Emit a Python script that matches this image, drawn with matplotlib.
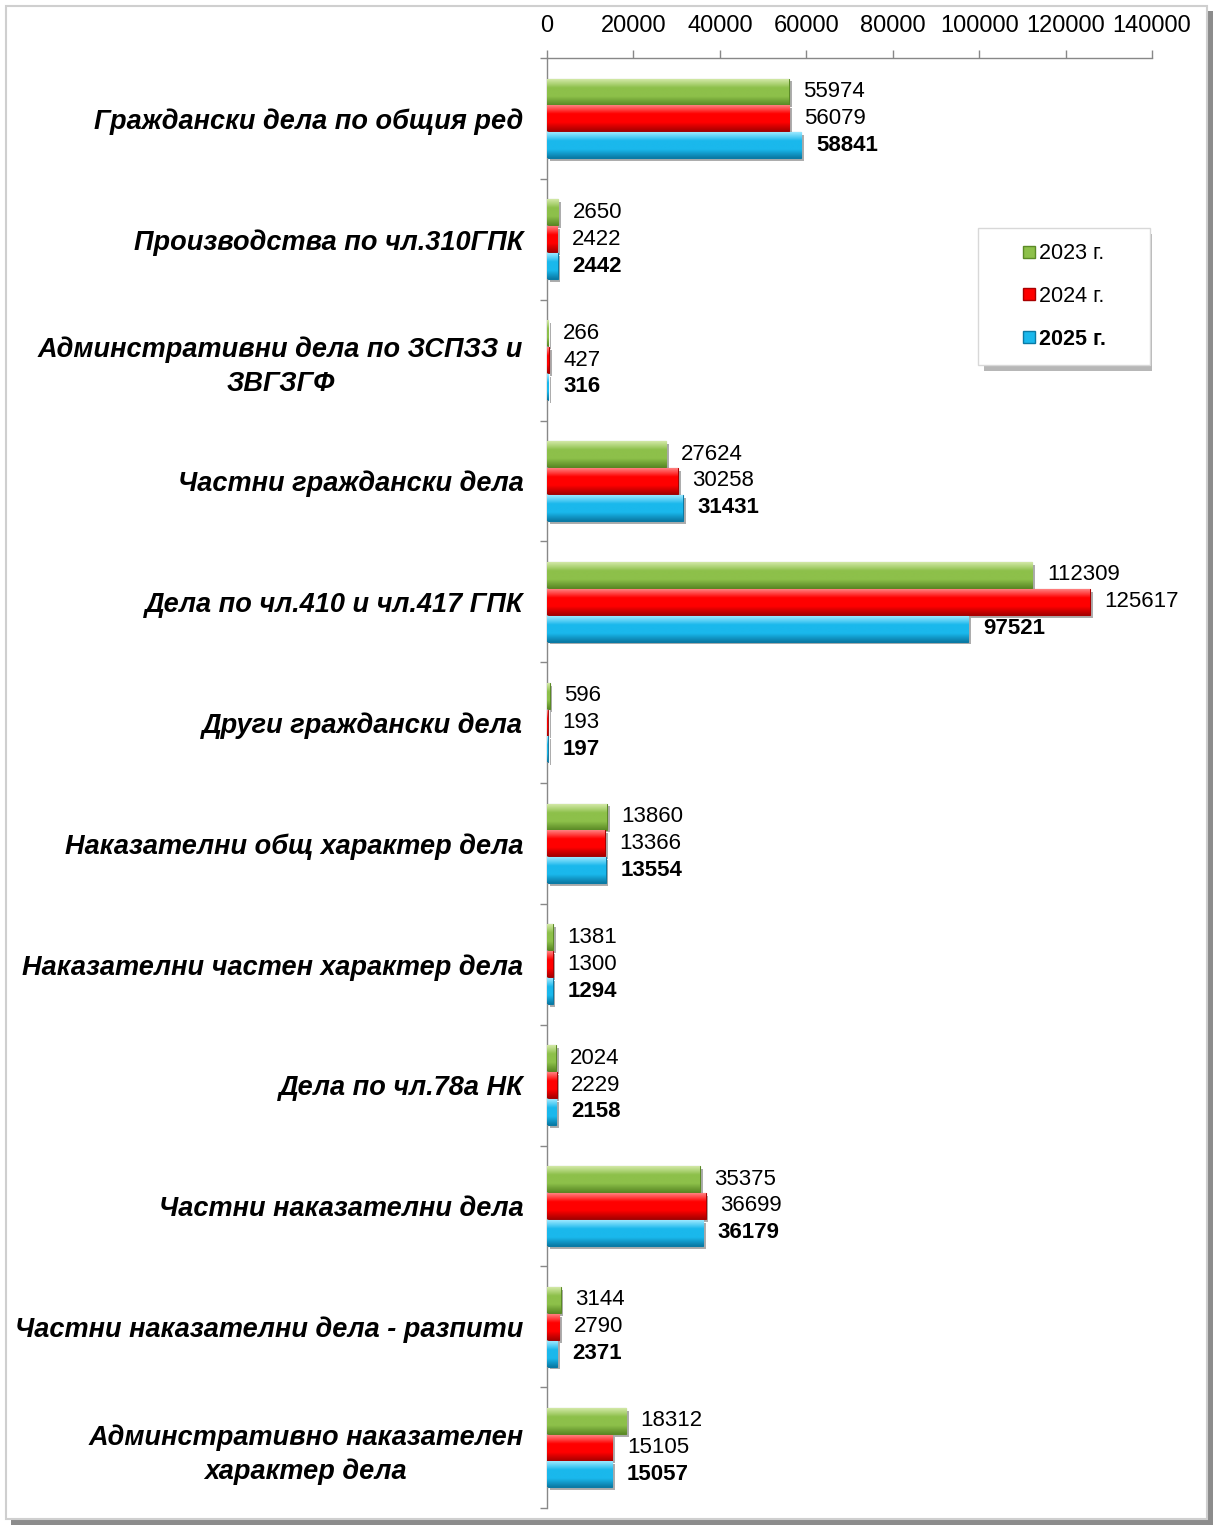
import numpy as np
import matplotlib
matplotlib.use("Agg")
import matplotlib.pyplot as plt
from matplotlib.patches import Rectangle
from matplotlib.colors import LinearSegmentedColormap
from matplotlib.lines import Line2D
import matplotlib.patheffects as pe

plt.rcParams['font.family'] = ['Liberation Sans', 'DejaVu Sans']

categories = [
    "Граждански дела по общия ред",
    "Производства по чл.310ГПК",
    "Админстративни дела по ЗСПЗЗ и\nЗВГЗГФ",
    "Частни граждански дела",
    "Дела по чл.410 и чл.417 ГПК",
    "Други граждански дела",
    "Наказателни общ характер дела",
    "Наказателни частен характер дела",
    "Дела по чл.78а НК",
    "Частни наказателни дела",
    "Частни наказателни дела - разпити",
    "Админстративно наказателен\nхарактер дела",
]
years = ["2023 г.", "2024 г.", "2025 г."]
v2023 = [55974, 2650, 266, 27624, 112309, 596, 13860, 1381, 2024, 35375, 3144, 18312]
v2024 = [56079, 2422, 427, 30258, 125617, 193, 13366, 1300, 2229, 36699, 2790, 15105]
v2025 = [58841, 2442, 316, 31431, 97521, 197, 13554, 1294, 2158, 36179, 2371, 15057]
xticks = [0, 20000, 40000, 60000, 80000, 100000, 120000, 140000]

# light / base / dark for glossy look
shades = [
    ("#d2e8a6", "#8dc04a", "#5b8a26"),
    ("#ff8080", "#ff0000", "#a80000"),
    ("#9be8ff", "#1ab8ec", "#0a7aa5"),
]

W, H = 1214, 1526
fig = plt.figure(figsize=(W / 100, H / 100), dpi=100)

# outer frame with shadow
fig.patches.append(Rectangle((11 / W, 1 / H), 1202 / W, 1514 / H, transform=fig.transFigure,
                             facecolor="#8c8c8c", edgecolor="none", zorder=-3))
fig.patches.append(Rectangle((6 / W, 7 / H), 1201 / W, 1513 / H, transform=fig.transFigure,
                             facecolor="white", edgecolor="#cfcfcf", lw=1.5, zorder=-2))

ax = fig.add_axes([547 / W, 18 / H, 605 / W, 1450 / H])
ax.set_facecolor("none")

y = np.arange(len(categories))
h = 0.215
offs = [-0.222, 0.0, 0.222]
series = [v2023, v2024, v2025]

for k, (vals, sh) in enumerate(zip(series, shades)):
    cmap = LinearSegmentedColormap.from_list("g%d" % k, [sh[0], sh[1], sh[1], sh[2]])
    bars = ax.barh(y + offs[k], vals, height=h, color=sh[1], edgecolor=sh[2], lw=0.8, zorder=2)
    for b in bars:
        b.set_path_effects([pe.SimplePatchShadow(offset=(2, -2), shadow_rgbFace="#777777", alpha=0.6),
                            pe.Normal()])
        x0, y0 = b.get_x(), b.get_y()
        w_, h_ = b.get_width(), b.get_height()
        grad = np.linspace(0, 1, 64).reshape(-1, 1)
        im = ax.imshow(grad, cmap=cmap, aspect="auto", extent=(x0, x0 + w_, y0 + h_, y0),
                       zorder=3, interpolation="bilinear")
        im.set_clip_path(b)
    for yy, v in zip(y + offs[k], vals):
        ax.annotate(str(v), (v, yy), xytext=(10.5, 0), textcoords="offset points",
                    va="center", ha="left", fontsize=16,
                    fontweight="bold" if k == 2 else "normal", color="black", zorder=5)

ax.set_xlim(0, 140000)
ax.set_ylim(len(categories) - 0.5, -0.5)
ax.xaxis.tick_top()
ax.set_xticks(xticks)
ax.set_xticklabels([str(t) for t in xticks], fontsize=17)
ax.tick_params(axis="x", direction="out", length=6, width=1, color="#888888", pad=9)

ax.set_yticks(y)
ax.set_yticklabels(categories, fontsize=19.5, fontweight="bold", fontstyle="italic",
                   multialignment="center", linespacing=1.4)
ax.set_yticks(np.arange(-0.5, len(categories), 1), minor=True)
ax.tick_params(axis="y", which="major", length=0, pad=17)
ax.tick_params(axis="y", which="minor", direction="out", length=5, width=1, color="#888888")

for s in ["right", "bottom"]:
    ax.spines[s].set_visible(False)
for s in ["top", "left"]:
    ax.spines[s].set_color("#888888")
    ax.spines[s].set_linewidth(1)

# legend box
lx0, ly0, lw_, lh_ = (978 - 547) / 605, 1 - (365 - 58) / 1450, 172 / 605, 137 / 1450
box = Rectangle((lx0, ly0), lw_, lh_, transform=ax.transAxes, facecolor="white",
                edgecolor="#d8d8d8", lw=1, zorder=6,
                path_effects=[pe.SimplePatchShadow(offset=(4, -4), shadow_rgbFace="#999999", alpha=0.7),
                              pe.Normal()])
ax.add_patch(box)
handles = [Line2D([], [], marker="s", ls="none", markersize=8, markerfacecolor=sh[1],
                  markeredgecolor=sh[2]) for sh in shades]
leg = ax.legend(handles, years, loc="center", bbox_to_anchor=(lx0 + lw_ / 2, ly0 + lh_ / 2),
                frameon=False, fontsize=15.5, handlelength=0.6, handletextpad=0.15,
                labelspacing=1.0, borderaxespad=0)
leg.set_zorder(7)
leg.get_texts()[2].set_fontweight("bold")

fig.savefig("out.png", dpi=100)
